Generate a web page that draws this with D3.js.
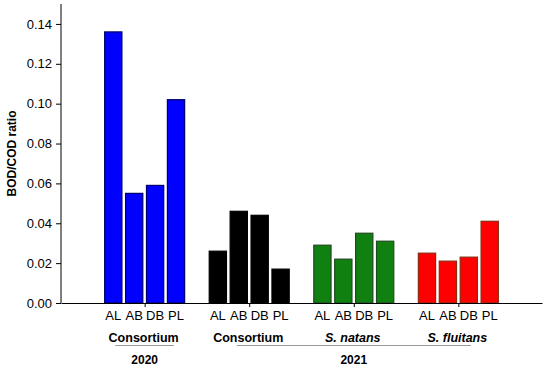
<!DOCTYPE html>
<html>
<head>
<meta charset="utf-8">
<script src="https://cdn.jsdelivr.net/npm/d3@7"></script>
<style>
  html, body { margin: 0; padding: 0; background: #fff; }
  text { font-family: Arial, "Liberation Sans", sans-serif; fill: #000; }
</style>
</head>
<body>
<div id="chart"></div>
<script>
// Data
const treatments = ["AL", "AB", "DB", "PL"]
const groups = ["Consortium", "Consortium", "S. natans", "S. fluitans"]
const groupItalic = [false, false, true, true]
const consortium2020 = [0.136, 0.055, 0.059, 0.102]
const consortium2021 = [0.026, 0.046, 0.044, 0.017]
const natans2021 = [0.029, 0.022, 0.035, 0.031]
const fluitans2021 = [0.025, 0.021, 0.023, 0.041]
const groupValues = [consortium2020, consortium2021, natans2021, fluitans2021]
const fillColors = ["#0000ff", "#000000", "#108010", "#ff0000"]
const strokeColors = ["#00006a", "#000000", "#1f4a1f", "#8a2a10"]
const years = ["2020", "2021"]
const yearGroups = [[0, 0], [1, 3]]
const yTicks = [0, 0.02, 0.04, 0.06, 0.08, 0.10, 0.12, 0.14]

const width = 550
const height = 370
const margin = { top: 4, right: 8, bottom: 67, left: 61 }

const svg = d3.select("#chart")
  .append("svg")
  .attr("width", width)
  .attr("height", height)

const x = d3.scaleLinear()
  .domain([0.2, 4.8])
  .range([margin.left, width - margin.right])

const y = d3.scaleLinear()
  .domain([0, 0.15])
  .range([height - margin.bottom, margin.top])

const barStep = 0.2
const barWidth = 0.165

// Bars
groupValues.forEach((values, g) => {
  const center = g + 1
  svg.append("g")
    .selectAll("rect")
    .data(values)
    .join("rect")
    .attr("x", (d, i) => x(center + (i - 1.5) * barStep - barWidth / 2))
    .attr("y", d => y(d))
    .attr("width", x(barWidth) - x(0))
    .attr("height", d => y(0) - y(d))
    .attr("fill", fillColors[g])
    .attr("stroke", strokeColors[g])
    .attr("stroke-width", 1.2)

  // Treatment labels
  svg.append("g")
    .selectAll("text")
    .data(treatments)
    .join("text")
    .attr("x", (d, i) => x(center + (i - 1.5) * barStep))
    .attr("y", y(0) + 17)
    .attr("text-anchor", "middle")
    .style("font-size", "13px")
    .text(d => d)

  // Group label
  svg.append("text")
    .attr("x", x(center) - 1)
    .attr("y", y(0) + 39)
    .attr("text-anchor", "middle")
    .style("font-size", "12.5px")
    .style("font-weight", "bold")
    .style("font-style", groupItalic[g] ? "italic" : "normal")
    .text(groups[g])
})

// Year brackets
years.forEach((year, k) => {
  const [first, last] = yearGroups[k]
  const mid = (first + last) / 2 + 1
  const half = 0.28 + (last - first) * 0.42
  svg.append("line")
    .attr("x1", x(mid - half))
    .attr("x2", x(mid + half))
    .attr("y1", y(0) + 42.5)
    .attr("y2", y(0) + 42.5)
    .attr("stroke", "#9a9a9a")
    .attr("stroke-width", 1)

  svg.append("text")
    .attr("x", x(mid))
    .attr("y", y(0) + 60.5)
    .attr("text-anchor", "middle")
    .style("font-size", "12px")
    .style("font-weight", "bold")
    .text(year)
})

// Y axis
const yAxis = svg.append("g")
  .attr("transform", `translate(${margin.left},0)`)
  .call(
    d3.axisLeft(y)
      .tickValues(yTicks)
      .tickSize(5)
      .tickPadding(4)
      .tickFormat(d3.format(".2f"))
  )
yAxis.select(".domain").attr("d", `M0,${y(0.15)}V${y(0)}`)
yAxis.selectAll(".tick text")
  .style("font-size", "13px")
  .style("font-family", "Arial, 'Liberation Sans', sans-serif")

// X axis
svg.append("g")
  .attr("transform", `translate(0,${y(0)})`)
  .call(
    d3.axisBottom(x)
      .tickValues([1, 2, 3, 4])
      .tickSize(4)
      .tickFormat("")
      .tickSizeOuter(0)
  )

// Y axis title
svg.append("text")
  .attr("transform", `translate(16,${(y(0) + y(0.15)) / 2}) rotate(-90)`)
  .attr("text-anchor", "middle")
  .style("font-size", "12px")
  .style("font-weight", "bold")
  .text("BOD/COD ratio")
</script>
</body>
</html>
